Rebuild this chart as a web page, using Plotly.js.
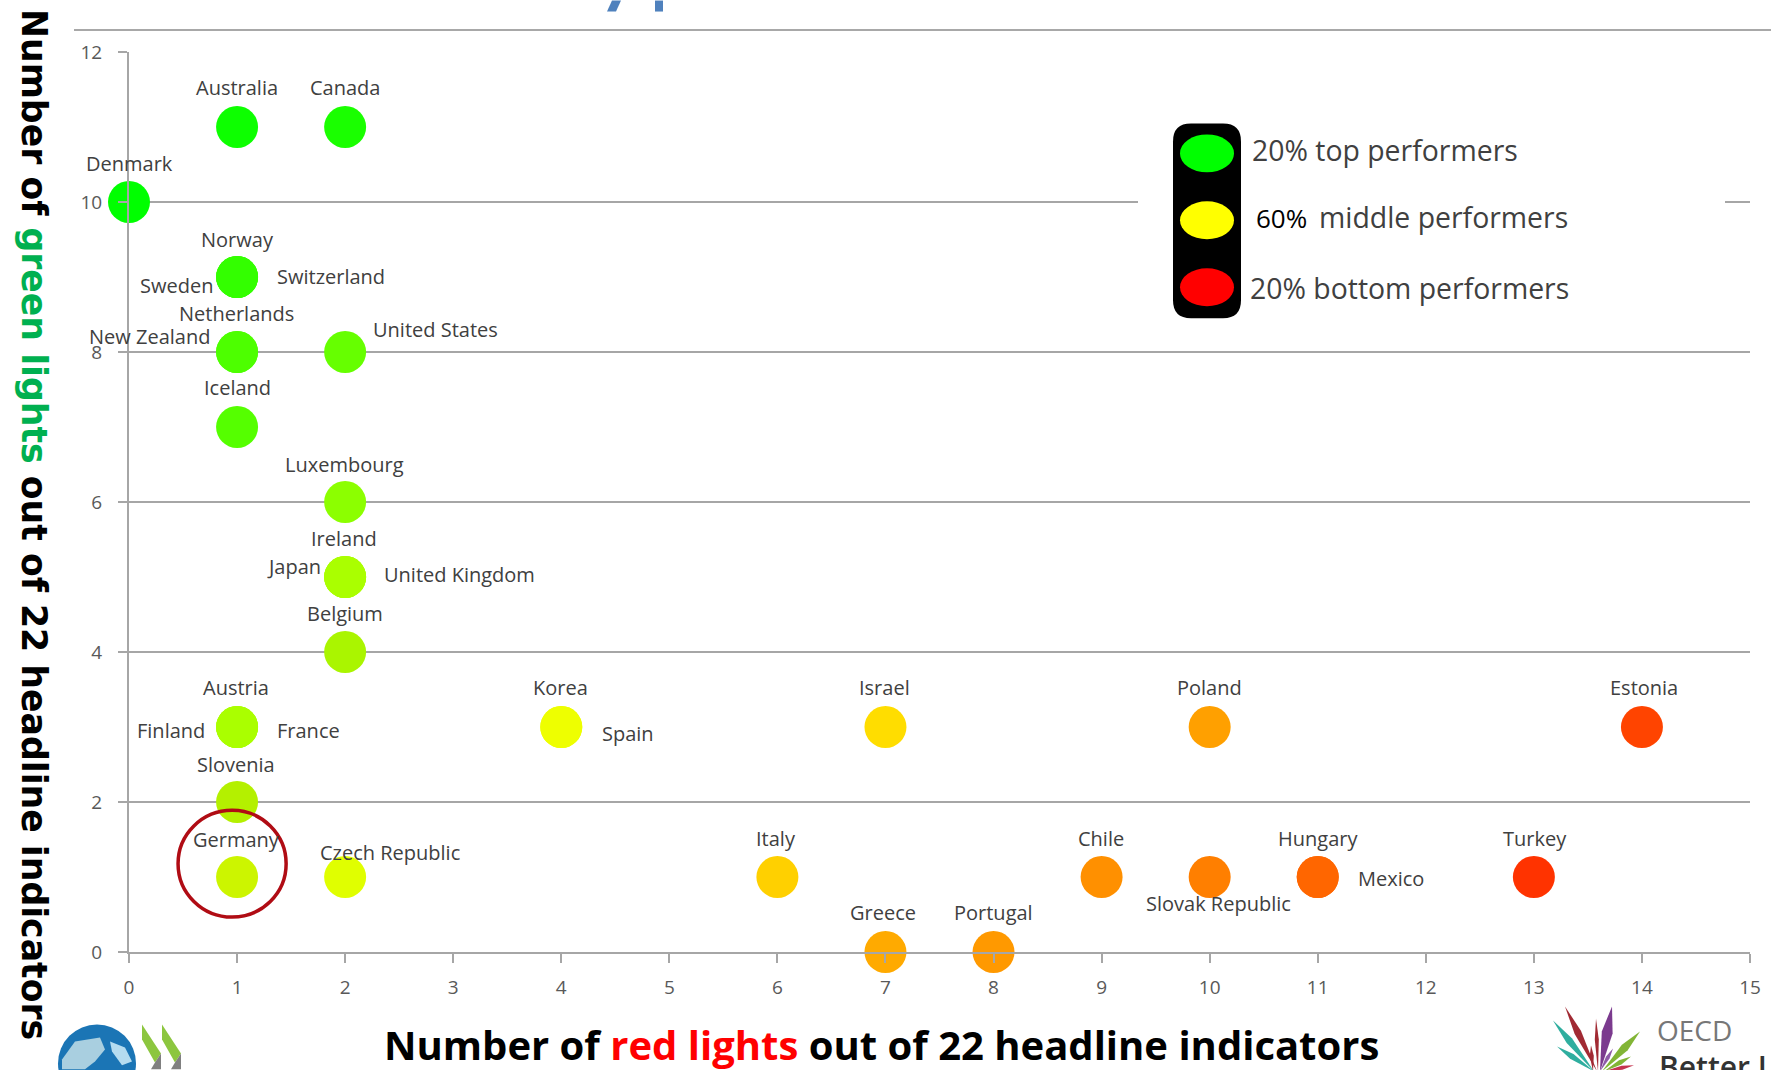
<!DOCTYPE html>
<html>
<head>
<meta charset="utf-8">
<script src="https://cdn.plot.ly/plotly-3.0.1.min.js"></script>
<style>html,body{margin:0;padding:0;background:#fff;overflow:hidden}#c{width:1771px;height:1070px}</style>
</head>
<body>
<div id="c"></div>
<script>
const countries = ["Australia","Canada","Denmark","Norway","Sweden","Switzerland","Netherlands","New Zealand","United States","Iceland","Luxembourg","Ireland","Japan","United Kingdom","Belgium","Austria","Finland","France","Korea","Spain","Israel","Poland","Estonia","Slovenia","Germany","Czech Republic","Italy","Chile","Slovak Republic","Hungary","Mexico","Turkey","Greece","Portugal"];
const redLights = [1,2,0,1,1,1,1,1,2,1,2,2,2,2,2,1,1,1,4,4,7,10,14,1,1,2,6,9,10,11,11,13,7,8];
const greenLights = [11,11,10,9,9,9,8,8,8,7,6,5,5,5,4,3,3,3,3,3,3,3,3,2,1,1,1,1,1,1,1,1,0,0];
const lightColors = ["#0dff00","#1aff00","#00ff00","#33ff00","#33ff00","#33ff00","#4dff00","#4dff00","#66ff00","#55ff00","#8cff00","#aaff00","#aaff00","#aaff00","#aaf500","#aaff00","#aaff00","#aaff00","#eeff00","#eeff00","#ffdd00","#ffa000","#ff4400","#b4f000","#ccf500","#e0ff00","#ffd000","#ff9000","#ff7f00","#ff6600","#ff6600","#ff3300","#ffaa00","#ff9900"];
const xTicks = [0,1,2,3,4,5,6,7,8,9,10,11,12,13,14,15];
const yTicks = [0,2,4,6,8,10,12];
const legendLabels = ["20% top performers","60%","middle performers","20% bottom performers"];

// label placement relative to the marker, in screen pixels [dx, dy]
const labelOffset = {
 "Australia":[0,-40],"Canada":[0,-40],"Denmark":[0,-39],"Norway":[0,-38],"Sweden":[-61,8],"Switzerland":[94,-1],
 "Netherlands":[-1,-39],"New Zealand":[-88,-16],"United States":[90,-23],"Iceland":[0,-40],"Luxembourg":[-1,-38],
 "Ireland":[-1,-39],"Japan":[-51,-11],"United Kingdom":[114,-3],"Belgium":[0,-39],"Austria":[-1,-40],"Finland":[-66,3],
 "France":[71,3],"Korea":[-1,-40],"Spain":[67,6],"Israel":[-1,-40],"Poland":[0,-40],"Estonia":[2,-40],"Slovenia":[-1,-38],
 "Germany":[-1,-38],"Czech Republic":[45,-25],"Italy":[-1,-39],"Chile":[-1,-39],"Slovak Republic":[9,26],"Hungary":[0,-39],
 "Mexico":[73,1],"Turkey":[1,-39],"Greece":[-2,-40],"Portugal":[0,-40]
};

const W=1771,H=1070,L=129,R=1750,T=51.5,B=952.5;
const px=x=>(x-L)/(R-L), py=y=>(B-y)/(B-T);
const pathOf=pts=>"M"+pts.map(p=>px(p[0])+","+py(p[1])).join("L")+"Z";
const polyShape=(pts,color)=>({type:"path",xref:"paper",yref:"paper",path:pathOf(pts),fillcolor:color,line:{width:0},layer:"above"});
const ell=(x0,x1,y0,y1,fill,line)=>({type:"circle",xref:"paper",yref:"paper",x0:px(x0),x1:px(x1),y0:py(y1),y1:py(y0),fillcolor:fill,line:line||{width:0},layer:"above"});
const leaf=(x0,y0,x1,y1,w,color)=>{
  const dx=x1-x0,dy=y1-y0,l=Math.hypot(dx,dy),nx=-dy/l*w/2,ny=dx/l*w/2;
  const mx=x0+dx*.6,my=y0+dy*.6;
  return polyShape([[x0,y0],[mx+nx,my+ny],[x1,y1],[mx-nx,my-ny]],color);
};

const shapes=[
 // clipped slide title fragments and rule
 polyShape([[612,0],[621,0],[616,11],[607,11]],"#4f81bd"),
 polyShape([[655,0],[663,0],[663,11],[655,11]],"#4f81bd"),
 {type:"line",xref:"paper",yref:"paper",x0:px(74),x1:px(1771),y0:py(29.5),y1:py(29.5),line:{color:"#a8a8a8",width:2},layer:"above"},
 // Germany highlight
 {type:"circle",xref:"x",yref:"y",x0:0.454,x1:1.454,y0:0.466,y1:1.889,line:{color:"#b00c14",width:3.5},fillcolor:"rgba(0,0,0,0)",layer:"above"},
 // legend backdrop interrupting the 10 gridline
 {type:"rect",xref:"paper",yref:"paper",x0:px(1138),x1:px(1725),y0:py(215),y1:py(190),fillcolor:"#fff",line:{width:0},layer:"above"},
 // traffic light
 {type:"path",xref:"paper",yref:"paper",layer:"above",fillcolor:"#000",line:{width:0},
  path:(()=>{const a=1173,b=1241,c=123,d=318,r=18;const X=px,Y=py;
   return `M${X(a+r)},${Y(c)}L${X(b-r)},${Y(c)}Q${X(b)},${Y(c)} ${X(b)},${Y(c+r)}L${X(b)},${Y(d-r)}Q${X(b)},${Y(d)} ${X(b-r)},${Y(d)}L${X(a+r)},${Y(d)}Q${X(a)},${Y(d)} ${X(a)},${Y(d-r)}L${X(a)},${Y(c+r)}Q${X(a)},${Y(c)} ${X(a+r)},${Y(c)}Z`;})()},
 ell(1180,1234,134,172,"#00ff00"),
 ell(1180,1234,201,239,"#ffff00"),
 ell(1180,1234,268,306,"#ff0000"),
 // OECD globe
 ell(58,136,1025,1103,"#1b75b5"),
 polyShape([[62,1060],[75,1042],[100,1038],[105,1050],[95,1062],[85,1070],[62,1070]],"#a9cfe0"),
 polyShape([[110,1042],[125,1048],[132,1062],[122,1066],[112,1052]],"#b5dcf0"),
 // OECD chevrons
 polyShape([[142,1025],[161,1054],[155,1063],[142,1040]],"#8cc63f"),
 polyShape([[162,1025],[181,1054],[175,1063],[162,1040]],"#8cc63f"),
 polyShape([[161,1054],[161,1070],[151,1070],[155,1063]],"#808080"),
 polyShape([[181,1054],[181,1070],[171,1070],[175,1063]],"#808080"),
 // Better Life spokes
 leaf(1597,1072,1565,1007,7,"#a12a33"),
 leaf(1600,1072,1612,1007,11,"#7b3a8e"),
 leaf(1594,1072,1553,1021,7,"#2fae9f"),
 leaf(1594,1072,1557,1047,6,"#2fae9f"),
 leaf(1598,1072,1596,1019,4,"#a12a33"),
 leaf(1593,1072,1591,1046,4,"#a12a33"),
 leaf(1602,1072,1640,1032,8,"#82b536"),
 leaf(1604,1072,1631,1057,5,"#82b536"),
 leaf(1604,1072,1634,1066,4,"#c5344f"),
 leaf(1600,1072,1613,1049,4,"#8e5aa8")
];

const labelFont={family:"Open Sans",size:20,color:"#404040"};
const annotations=countries.map((c,i)=>({
  x:redLights[i],y:greenLights[i],xref:"x",yref:"y",text:c,showarrow:false,
  xanchor:"center",yanchor:"middle",xshift:labelOffset[c][0],yshift:-labelOffset[c][1],font:labelFont
}));
const pa=(x,y,text,font,extra)=>Object.assign({xref:"paper",yref:"paper",x:px(x),y:py(y),text,showarrow:false,xanchor:"left",yanchor:"middle",font},extra||{});
const legFont={family:"Open Sans",size:28.4,color:"#404040"};
annotations.push(
 pa(1250,150,legendLabels[0],legFont),
 pa(1254,218,legendLabels[1],{family:"Open Sans",size:26,color:"#000"}),
 pa(1317,217,legendLabels[2],legFont),
 pa(1248,288,legendLabels[3],legFont),
 pa(881,1045,'Number of <span style="color:#ff0000">red lights</span> out of 22 headline indicators',{family:"Open Sans",size:40,color:"#000",weight:700},{xanchor:"center"}),
 pa(34,524,'<b>Number of <span style="color:#00b050">green lights</span> out of 22 headline indicators</b>',{family:"DejaVu Sans",size:34.7,color:"#000"},{xanchor:"center",textangle:90}),
 pa(1655,1031,"OECD",{family:"Open Sans",size:28,color:"#777"}),
 pa(1657,1067,"Better Life",{family:"Open Sans",size:30,color:"#333",weight:600})
);

const trace={type:"scatter",mode:"markers",x:redLights,y:greenLights,text:countries,cliponaxis:false,
  marker:{size:42,color:lightColors,line:{width:0}},hoverinfo:"text"};

const axisCommon={showline:true,linecolor:"#a6a6a6",linewidth:2,ticks:"outside",tickcolor:"#a6a6a6",tickwidth:2,ticklen:9,
  tickfont:{family:"Open Sans",size:19,color:"#595959"},zeroline:false,fixedrange:true};
const layout={
  width:W,height:H,paper_bgcolor:"#fff",plot_bgcolor:"#fff",showlegend:false,
  margin:{l:L,r:W-R,t:T,b:H-B,pad:0},
  xaxis:Object.assign({},axisCommon,{range:[0,15],tickmode:"array",tickvals:xTicks,ticktext:xTicks.map(String),showgrid:false,ticklabelstandoff:8}),
  yaxis:Object.assign({},axisCommon,{range:[0,12],tickmode:"array",tickvals:yTicks,ticktext:yTicks.map(String),showgrid:true,gridcolor:"#a6a6a6",gridwidth:2,ticklabelstandoff:12}),
  shapes,annotations
};
Plotly.newPlot("c",[trace],layout,{displayModeBar:false,staticPlot:true});
</script>
</body>
</html>
